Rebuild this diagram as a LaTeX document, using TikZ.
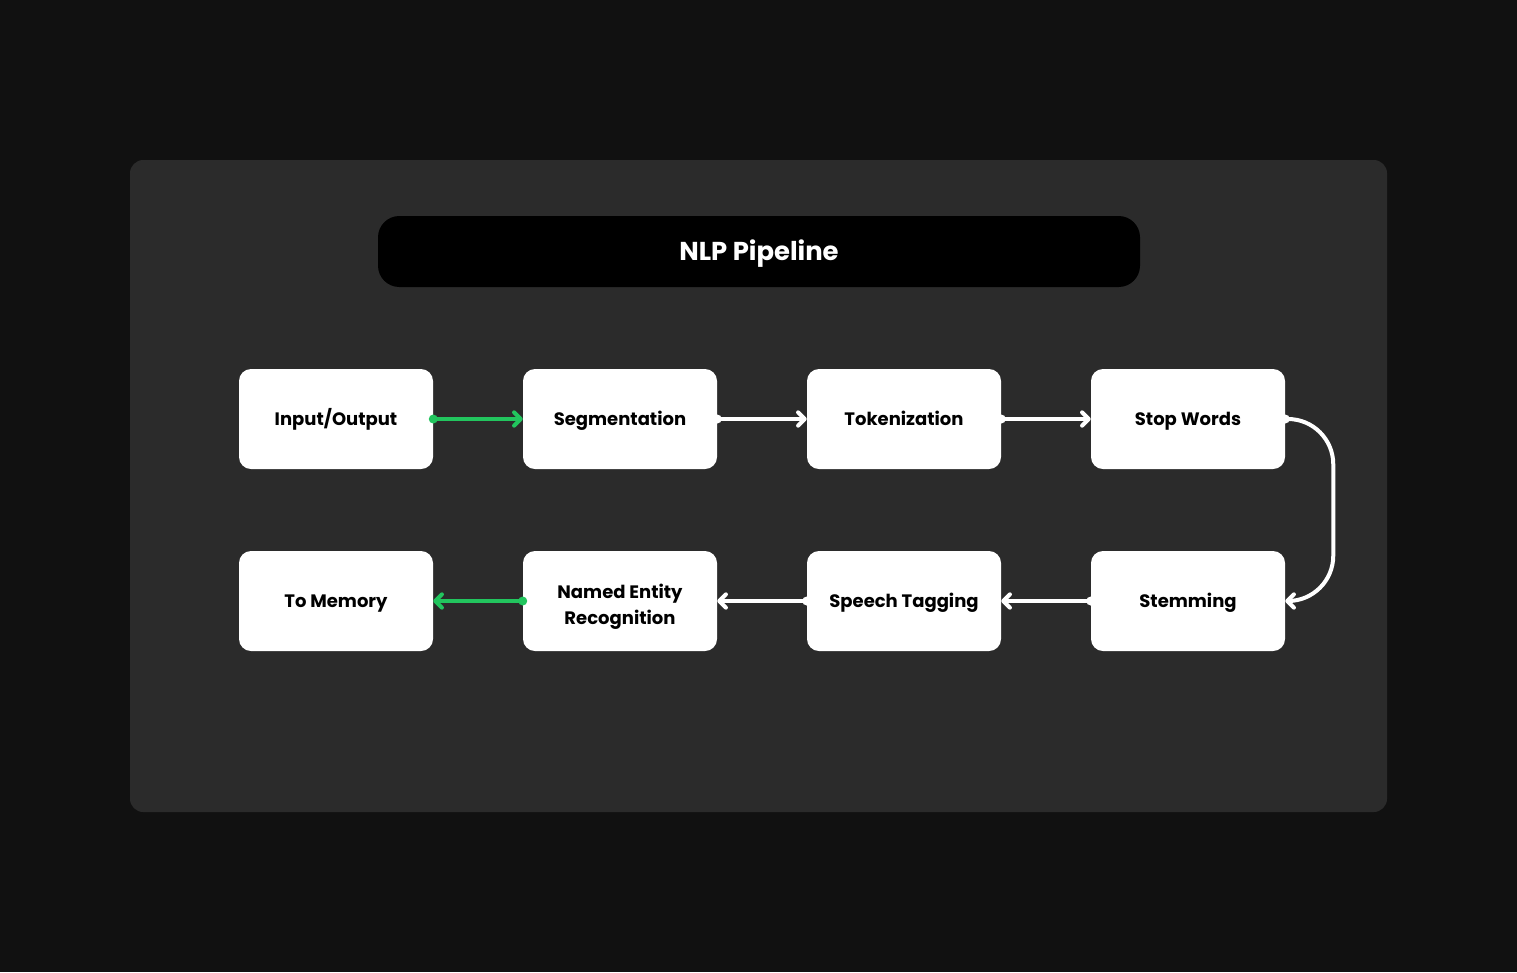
\documentclass[tikz,border=0pt]{standalone}
\usepackage{fontspec}
\setmainfont{Poppins}
\usetikzlibrary{arrows.meta}
\definecolor{bgc}{RGB}{17,17,17}
\definecolor{panelc}{RGB}{43,43,43}
\definecolor{greenc}{RGB}{34,197,94}
\tikzset{
  stepbox/.style={draw=none, fill=white, rounded corners=9pt, minimum width=145.5pt, minimum height=75pt, align=center, font=\bfseries\fontsize{13.5}{19.5}\selectfont, text=black, inner sep=0pt, text height=9.5pt, text depth=0pt},
  conn/.style={line width=3pt, white, {Circle[length=6.5pt]}-{Straight Barb[length=5pt, width=10pt, round, line width=3pt]}, shorten <=-3.25pt, line cap=round, line join=round},
  gconn/.style={conn, greenc},
}
\begin{document}
\begin{tikzpicture}[x=0.75pt, y=-0.75pt]
\fill[bgc] (0,0) rectangle (1517,972);
\useasboundingbox (0,0) rectangle (1517,972);
\fill[panelc, rounded corners=10pt] (130,160) rectangle (1387,812);
\node[fill=black, rounded corners=16pt, minimum width=571.5pt, minimum height=53.25pt, inner sep=0pt, text height=13.6pt, text depth=0pt, text=white, font=\bfseries\fontsize{19.4}{22}\selectfont] (title) at (759,251.5) {NLP Pipeline};
\node[stepbox] (io) at (336,419) {Input/Output};
\node[stepbox] (seg) at (620,419) {Segmentation};
\node[stepbox] (tok) at (904,419) {Tokenization};
\node[stepbox] (sw) at (1188,419) {Stop Words};
\node[stepbox] (tm) at (336,601) {To Memory};
\node[stepbox, text height=34.5pt] (ner) at (620,601) {Named Entity\\Recognition};
\node[stepbox] (pos) at (904,601) {Speech Tagging};
\node[stepbox] (stem) at (1188,601) {Stemming};
\draw[gconn] (io.east) -- (seg.west);
\draw[conn] (seg.east) -- (tok.west);
\draw[conn] (tok.east) -- (sw.west);
\draw[conn, rounded corners=34pt] (sw.east) -- ++(48,0) |- (stem.east);
\draw[conn] (stem.west) -- (pos.east);
\draw[conn] (pos.west) -- (ner.east);
\draw[gconn] (ner.west) -- (tm.east);
\end{tikzpicture}
\end{document}
